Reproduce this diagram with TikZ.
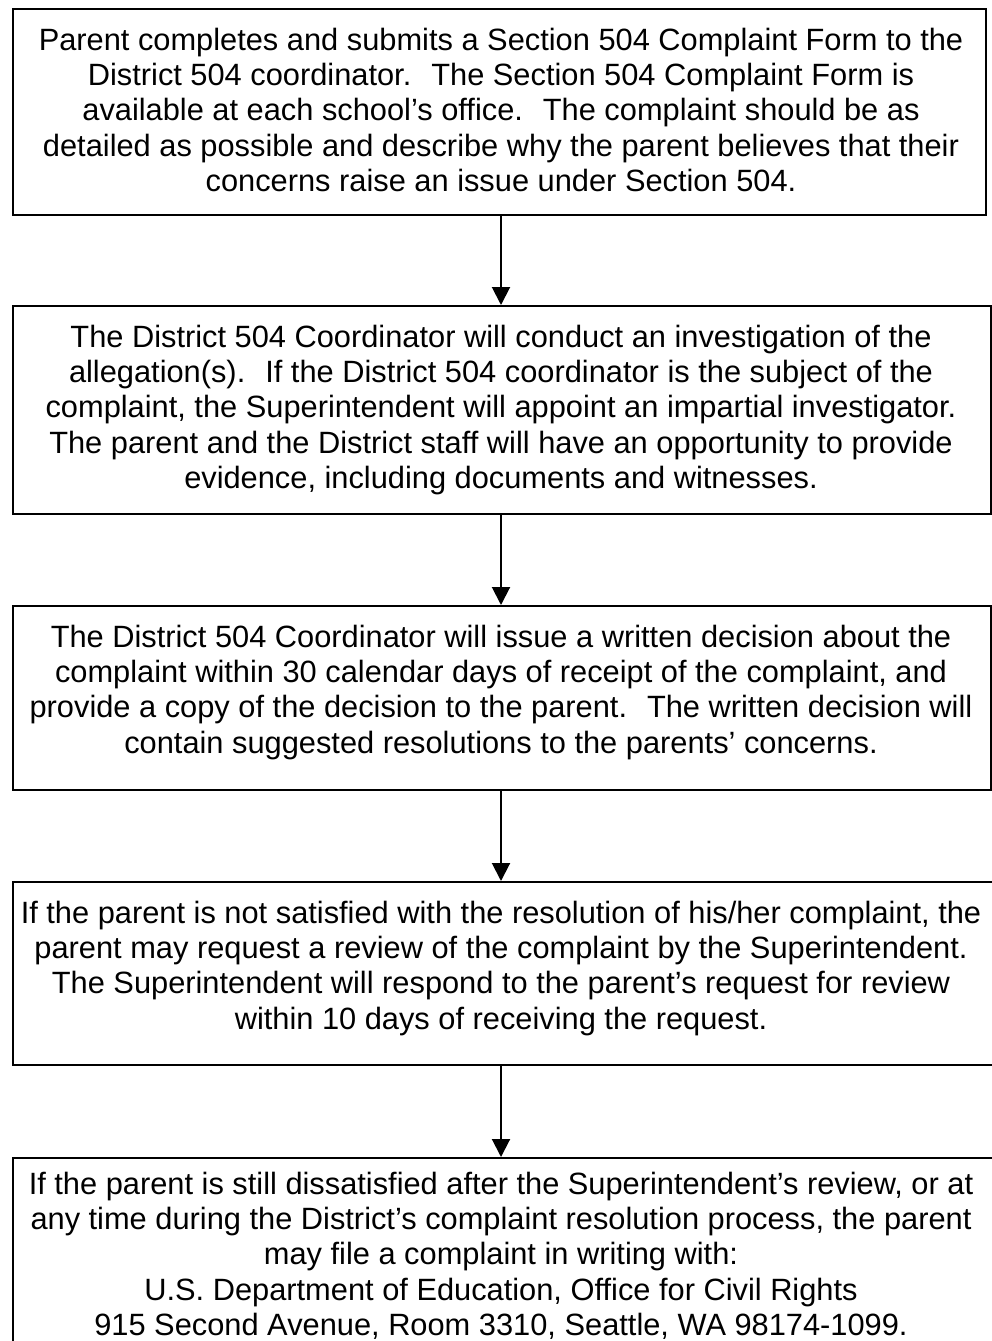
\documentclass[tikz,border=0pt]{standalone}
\usepackage{fontspec}
\setmainfont{Liberation Sans}
\usetikzlibrary{arrows.meta}
\tikzset{
  box/.style={draw=black, line width=2.4pt, rectangle, inner sep=0pt, anchor=north west},
  txt/.style={align=center, inner sep=0pt, anchor=north, font=\fontsize{30.8}{35.2}\selectfont},
  arr/.style={line width=2pt, -{Triangle[width=18pt,length=18pt]}}
}
\begin{document}
\begin{tikzpicture}[x=1pt,y=-1pt]
\useasboundingbox (0,0) rectangle (992,1341);
\clip (0,0) rectangle (992,1341);
\node[box, minimum width=973pt, minimum height=206pt] (b1) at (12,8) {};
\node[box, minimum width=978pt, minimum height=208pt] (b2) at (12,305) {};
\node[box, minimum width=978pt, minimum height=184pt] (b3) at (12,605) {};
\node[box, minimum width=982pt, minimum height=183pt] (b4) at (12,881) {};
\node[box, minimum width=982pt, minimum height=260pt] (b5) at (12,1157) {};
\coordinate (ax) at (501,0);
\node[txt] (t1) at ([yshift=-20pt]b1.north -| ax) {Parent completes and submits a Section 504 Complaint Form to the\\District 504 coordinator.~ The Section 504 Complaint Form is\\available at each school's office.~ The complaint should be as\\detailed as possible and describe why the parent believes that their\\concerns raise an issue under Section 504.};
\node[txt] (t2) at ([yshift=-20pt]b2.north -| ax) {The District 504 Coordinator will conduct an investigation of the\\allegation(s).~ If the District 504 coordinator is the subject of the\\complaint, the Superintendent will appoint an impartial investigator.\\The parent and the District staff will have an opportunity to provide\\evidence, including documents and witnesses.};
\node[txt] (t3) at ([yshift=-20pt]b3.north -| ax) {The District 504 Coordinator will issue a written decision about the\\complaint within 30 calendar days of receipt of the complaint, and\\provide a copy of the decision to the parent.~ The written decision will\\contain suggested resolutions to the parents' concerns.};
\node[txt] (t4) at ([yshift=-20pt]b4.north -| ax) {If the parent is not satisfied with the resolution of his/her complaint, the\\parent may request a review of the complaint by the Superintendent.\\The Superintendent will respond to the parent's request for review\\within 10 days of receiving the request.};
\node[txt] (t5) at ([yshift=-15pt]b5.north -| ax) {If the parent is still dissatisfied after the Superintendent's review, or at\\any time during the District's complaint resolution process, the parent\\may file a complaint in writing with:\\U.S. Department of Education, Office for Civil Rights\\915 Second Avenue, Room 3310, Seattle, WA 98174-1099.};
\draw[arr] (b1.south -| ax) -- (b2.north -| ax);
\draw[arr] (b2.south -| ax) -- (b3.north -| ax);
\draw[arr] (b3.south -| ax) -- (b4.north -| ax);
\draw[arr] (b4.south -| ax) -- (b5.north -| ax);
\end{tikzpicture}
\end{document}
